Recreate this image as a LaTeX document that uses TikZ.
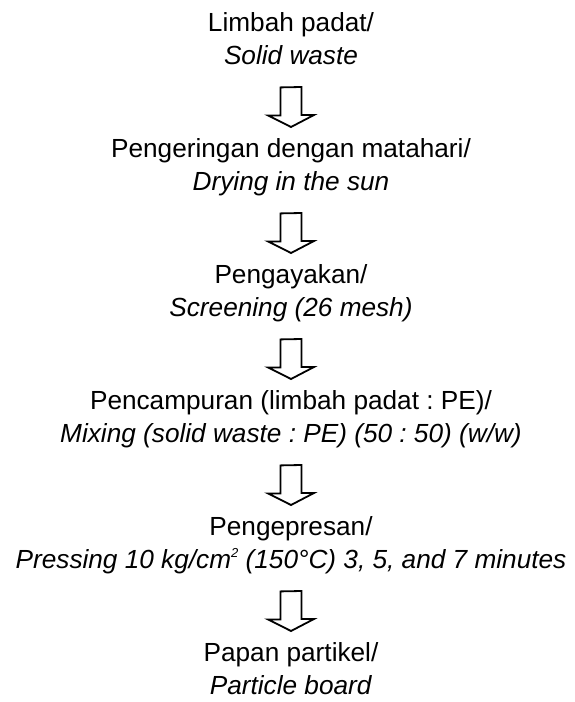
\documentclass[tikz,border=0pt]{standalone}
\usepackage{fontspec}
\setmainfont{Liberation Sans}
\usetikzlibrary{calc, positioning}
\newcommand{\sqsup}{\raisebox{0.8ex}{\fontsize{13}{13}\selectfont 2}}

\begin{document}
\frenchspacing
\begin{tikzpicture}[
    x=1pt, y=1pt,
    stage/.style={align=center, inner sep=0pt, text height=53pt, text depth=4pt, font=\fontsize{26.2}{33}\selectfont},
    flow/.style={draw, line width=1.8pt, to path={
        ($(\tikztostart.south)+(-10.5,-19)$) -- ++(0,-28) -- ++(-12.5,0)
        -- ($(\tikztotarget.north)+(0,10)$) -- ++(23,12) -- ++(-12.5,0) -- ++(0,28) -- cycle}},
    node distance=68.6pt
]
    \useasboundingbox (0,0) rectangle (574,-702);
    \node[stage, anchor=north] (waste) at (291,-11) {Limbah padat/\\\textit{Solid waste}};
    \node[stage, below=of waste] (drying) {Pengeringan dengan matahari/\\\textit{Drying in the sun}};
    \node[stage, below=of drying] (screening) {Pengayakan/\\\textit{Screening (26 mesh)}};
    \node[stage, below=of screening] (mixing) {Pencampuran (limbah padat : PE)/\\\textit{Mixing (solid waste : PE) (50 : 50) (w/w)}};
    \node[stage, below=of mixing] (pressing) {Pengepresan/\\\textit{Pressing 10 kg/cm\sqsup{} (150°C) 3, 5, and 7 minutes}};
    \node[stage, below=of pressing] (board) {Papan partikel/\\\textit{Particle board}};

    \draw[flow] (waste) to (drying);
    \draw[flow] (drying) to (screening);
    \draw[flow] (screening) to (mixing);
    \draw[flow] (mixing) to (pressing);
    \draw[flow] (pressing) to (board);
\end{tikzpicture}
\end{document}
